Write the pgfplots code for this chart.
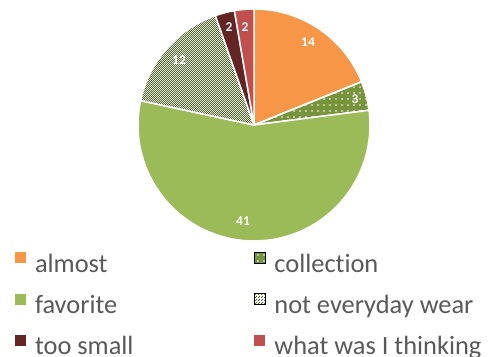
\documentclass[border=0pt]{standalone}
\usepackage{pgfplots}
\pgfplotsset{compat=1.18}
\usepackage{fontspec}
\setmainfont{Carlito}[Ligatures=NoCommon]
\usetikzlibrary{patterns}
\definecolor{cAlmost}{HTML}{F79646}
\definecolor{cColl}{HTML}{77933C}
\definecolor{cFav}{HTML}{9BBB59}
\definecolor{cNotEv}{HTML}{4F6228}
\definecolor{cSmall}{HTML}{632523}
\definecolor{cWhat}{HTML}{C0504D}
\definecolor{txtgray}{HTML}{595959}
\pgfdeclarepatternformonly{finecheck}{\pgfqpoint{0bp}{0bp}}{\pgfqpoint{2.4bp}{2.4bp}}{\pgfqpoint{2.4bp}{2.4bp}}{%
  \pgfpathrectangle{\pgfqpoint{0bp}{0bp}}{\pgfqpoint{1.2bp}{1.2bp}}%
  \pgfpathrectangle{\pgfqpoint{1.2bp}{1.2bp}}{\pgfqpoint{1.2bp}{1.2bp}}%
  \pgfusepath{fill}}
\pgfdeclarepatternformonly{sparsedots}{\pgfqpoint{-1bp}{-1bp}}{\pgfqpoint{5bp}{5bp}}{\pgfqpoint{6bp}{6bp}}{%
  \pgfpathcircle{\pgfqpoint{0bp}{0bp}}{0.8bp}\pgfusepath{fill}}
% counts: almost 14, collection 3, favorite 41, not everyday wear 12, too small 2, what was I thinking 2 (total 74)
\def\cx{254}\def\cy{232}\def\R{116}
\pgfmathsetmacro\aA{90}
\pgfmathsetmacro\aB{\aA-360*14/74}
\pgfmathsetmacro\aC{\aB-360*3/74}
\pgfmathsetmacro\aD{\aC-360*41/74}
\pgfmathsetmacro\aE{\aD-360*12/74}
\pgfmathsetmacro\aF{\aE-360*2/74}
\pgfmathsetmacro\aG{\aF-360*2/74}
\newcommand{\pieslice}[3]{%
  \addplot[#1, draw=white, line width=1.5bp, domain=#3:#2, samples=80, forget plot]
    ({\cx+\R*cos(x)},{\cy+\R*sin(x)}) -- (axis cs:\cx,\cy) -- cycle;}
\newcommand{\lt}[1]{\rule[-6bp]{0pt}{27bp}#1}
\begin{document}
\begin{tikzpicture}
\begin{axis}[
  hide axis, scale only axis, width=492bp, height=357bp,
  xmin=0, xmax=492, ymin=0, ymax=357, clip=false,
  legend columns=2, legend cell align=left,
  legend image code/.code={\fill[#1, draw=none] (0bp,-1bp) rectangle (11bp,10bp);},
  legend style={at={(axis cs:15,106)}, anchor=north west, draw=none, fill=none,
    inner sep=0pt, outer sep=0pt, column sep=9bp, row sep=18.8bp,
    nodes={inner sep=0pt, outer sep=0pt, text=txtgray},
    font=\fontsize{26.5}{26.5}\selectfont},
]
\path (rel axis cs:0,0) rectangle (rel axis cs:1,1);
\pieslice{fill=cAlmost}{\aA}{\aB}
\pieslice{fill=cColl, postaction={pattern=sparsedots, pattern color=white}}{\aB}{\aC}
\pieslice{fill=cFav}{\aC}{\aD}
\pieslice{fill=white, postaction={pattern=finecheck, pattern color=cNotEv}}{\aD}{\aE}
\pieslice{fill=cSmall}{\aE}{\aF}
\pieslice{fill=cWhat}{\aF}{\aG}
\addlegendimage{fill=cAlmost}
\addlegendentry{\makebox[210bp][l]{\lt{almost}}}
\addlegendimage{fill=cColl, postaction={pattern=sparsedots, pattern color=white}}
\addlegendentry{\lt{collection}}
\addlegendimage{fill=cFav}
\addlegendentry{\makebox[210bp][l]{\lt{favorite}}}
\addlegendimage{fill=white, postaction={pattern=finecheck, pattern color=cNotEv}}
\addlegendentry{\lt{not everyday wear}}
\addlegendimage{fill=cSmall}
\addlegendentry{\makebox[210bp][l]{\lt{too small}}}
\addlegendimage{fill=cWhat}
\addlegendentry{\lt{what was I thinking}}
\begin{scope}[every node/.style={text=white, font=\bfseries\fontsize{13.5}{13.5}\selectfont}]
\node at (axis cs:308,315) {14};
\node at (axis cs:355,258) {3};
\node at (axis cs:243,136) {41};
\node at (axis cs:179,297) {12};
\node at (axis cs:229,330) {2};
\node at (axis cs:245,330) {2};
\end{scope}
\end{axis}
\end{tikzpicture}
\end{document}
